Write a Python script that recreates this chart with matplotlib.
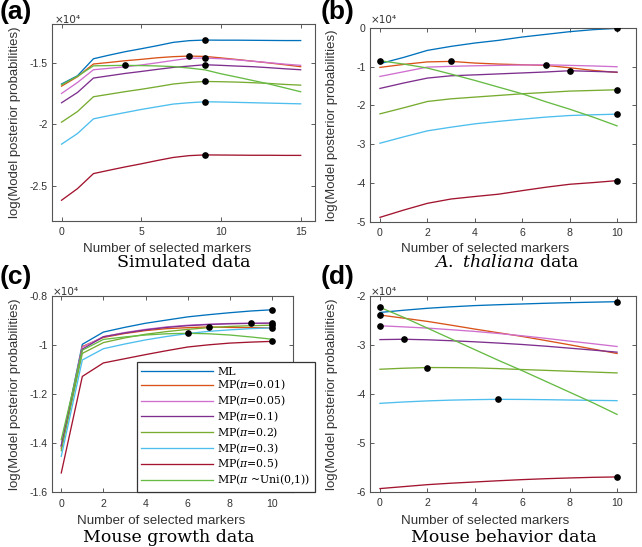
import numpy as np
import matplotlib
matplotlib.use("Agg")
import matplotlib.pyplot as plt
from matplotlib.font_manager import FontProperties
from matplotlib.ticker import FormatStrFormatter

plt.rcParams['axes.unicode_minus'] = False
plt.rcParams['mathtext.fontset'] = 'dejavuserif'

# ---------------- data (values in units of 1e4) ----------------
series_labels = ['ML', r'MP($\pi$=0.01)', r'MP($\pi$=0.05)', r'MP($\pi$=0.1)',
                 r'MP($\pi$=0.2)', r'MP($\pi$=0.3)', r'MP($\pi$=0.5)', r'MP($\pi$ ~Uni(0,1))']
series_colors = ['#0072BD', '#D95319', '#CF6FCF', '#7E2F8E',
                 '#77AC30', '#4DBEEE', '#A2142F', '#66BB44']

# (a) Simulated data, markers 0..15
sim_x = list(range(16))
sim_ml   = [-1.669, -1.601, -1.462, -1.432, -1.404, -1.380, -1.355, -1.328, -1.314, -1.309, -1.310, -1.310, -1.311, -1.312, -1.313, -1.313]
sim_p001 = [-1.686, -1.609, -1.505, -1.492, -1.478, -1.467, -1.454, -1.445, -1.440, -1.443, -1.455, -1.468, -1.482, -1.496, -1.511, -1.527]
sim_p005 = [-1.746, -1.656, -1.552, -1.540, -1.528, -1.513, -1.495, -1.476, -1.458, -1.456, -1.462, -1.471, -1.482, -1.494, -1.506, -1.516]
sim_p01  = [-1.822, -1.738, -1.620, -1.601, -1.582, -1.566, -1.549, -1.533, -1.522, -1.511, -1.516, -1.522, -1.527, -1.535, -1.544, -1.552]
sim_p02  = [-1.981, -1.894, -1.773, -1.752, -1.731, -1.712, -1.691, -1.669, -1.656, -1.648, -1.650, -1.653, -1.658, -1.664, -1.672, -1.678]
sim_p03  = [-2.161, -2.074, -1.954, -1.927, -1.902, -1.877, -1.855, -1.833, -1.822, -1.814, -1.816, -1.819, -1.822, -1.825, -1.828, -1.831]
sim_p05  = [-2.620, -2.525, -2.402, -2.374, -2.347, -2.322, -2.295, -2.270, -2.255, -2.249, -2.250, -2.251, -2.252, -2.252, -2.253, -2.253]
sim_uni  = [-1.675, -1.605, -1.520, -1.518, -1.516, -1.518, -1.521, -1.526, -1.538, -1.553, -1.585, -1.612, -1.640, -1.668, -1.700, -1.732]

# (b) A. thaliana data, markers 0..10
ath_x = list(range(11))
ath_ml   = [-0.920, -0.759, -0.578, -0.474, -0.388, -0.319, -0.233, -0.164, -0.095, -0.043, -0.009]
ath_p001 = [-1.017, -0.940, -0.875, -0.862, -0.905, -0.931, -0.948, -0.966, -1.026, -1.095, -1.147]
ath_p005 = [-1.250, -1.130, -1.009, -0.990, -0.975, -0.965, -0.955, -0.950, -0.965, -0.980, -1.000]
ath_p01  = [-1.560, -1.420, -1.293, -1.233, -1.210, -1.185, -1.160, -1.135, -1.103, -1.120, -1.138]
ath_p02  = [-2.216, -2.060, -1.897, -1.828, -1.784, -1.741, -1.698, -1.664, -1.629, -1.612, -1.595]
ath_p03  = [-2.974, -2.810, -2.655, -2.560, -2.474, -2.410, -2.353, -2.300, -2.259, -2.240, -2.224]
ath_p05  = [-4.888, -4.700, -4.526, -4.414, -4.350, -4.290, -4.198, -4.110, -4.034, -3.990, -3.940]
ath_uni  = [-0.845, -0.931, -1.034, -1.190, -1.353, -1.526, -1.698, -1.905, -2.095, -2.302, -2.526]

# (c) Mouse growth data, markers 0..10
mg_x = list(range(11))
mg_ml   = [-1.412, -0.996, -0.946, -0.927, -0.910, -0.897, -0.884, -0.875, -0.867, -0.860, -0.855]
mg_p001 = [-1.420, -1.005, -0.968, -0.952, -0.940, -0.932, -0.928, -0.925, -0.927, -0.928, -0.929]
mg_p005 = [-1.410, -1.008, -0.965, -0.948, -0.935, -0.925, -0.918, -0.914, -0.911, -0.910, -0.911]
mg_p01  = [-1.410, -1.016, -0.965, -0.950, -0.937, -0.927, -0.920, -0.915, -0.912, -0.9105, -0.909]
mg_p02  = [-1.430, -1.033, -0.989, -0.970, -0.955, -0.944, -0.935, -0.928, -0.923, -0.920, -0.918]
mg_p03  = [-1.453, -1.060, -1.014, -0.995, -0.978, -0.964, -0.952, -0.943, -0.937, -0.932, -0.929]
mg_p05  = [-1.521, -1.127, -1.072, -1.055, -1.038, -1.022, -1.007, -0.998, -0.991, -0.987, -0.984]
mg_uni  = [-1.385, -1.020, -0.976, -0.966, -0.958, -0.953, -0.951, -0.953, -0.958, -0.966, -0.975]

# (d) Mouse behavior data, markers 0..10
mb_x = list(range(11))
mb_ml   = [-2.330, -2.285, -2.245, -2.215, -2.190, -2.172, -2.157, -2.142, -2.130, -2.120, -2.110]
mb_p001 = [-2.383, -2.447, -2.513, -2.590, -2.670, -2.745, -2.821, -2.905, -2.991, -3.080, -3.169]
mb_p005 = [-2.602, -2.625, -2.650, -2.683, -2.718, -2.760, -2.807, -2.860, -2.916, -2.970, -3.026]
mb_p01  = [-2.885, -2.878, -2.889, -2.908, -2.930, -2.956, -2.985, -3.020, -3.060, -3.100, -3.142]
mb_p02  = [-3.491, -3.470, -3.456, -3.458, -3.463, -3.478, -3.497, -3.514, -3.532, -3.549, -3.566]
mb_p03  = [-4.188, -4.160, -4.138, -4.122, -4.112, -4.106, -4.108, -4.113, -4.120, -4.127, -4.133]
mb_p05  = [-5.930, -5.890, -5.850, -5.820, -5.795, -5.770, -5.747, -5.728, -5.713, -5.700, -5.692]
mb_uni  = [-2.226, -2.430, -2.650, -2.870, -3.090, -3.310, -3.520, -3.740, -3.960, -4.180, -4.414]

panel_titles = ['Simulated data', r'$\it{A.}$ $\it{thaliana}$ data', 'Mouse growth data', 'Mouse behavior data']
panel_tags = ['(a)', '(b)', '(c)', '(d)']
xlabel_text = 'Number of selected markers'
ylabel_text = 'log(Model posterior probabilities)'

# ---------------- figure ----------------
W, H = 642, 547
fig = plt.figure(figsize=(W / 100, H / 100), dpi=100)

def rect(l, r, t, b):
    return [l / W, 1 - b / H, (r - l) / W, (b - t) / H]

panels = [
    dict(rect=rect(52, 315, 24.3, 221), x=sim_x,
         ys=[sim_ml, sim_p001, sim_p005, sim_p01, sim_p02, sim_p03, sim_p05, sim_uni],
         xlim=(-0.6, 15.9), ylim=(-2.79, -1.18), xticks=[0, 5, 10, 15], yticks=[-2.5, -2, -1.5],
         xlab=(166.7, 243), ylab=21, title=(184, 263), tag=(0, 19), expo=(55, 23)),
    dict(rect=rect(370, 636, 28, 221.7), x=ath_x,
         ys=[ath_ml, ath_p001, ath_p005, ath_p01, ath_p02, ath_p03, ath_p05, ath_uni],
         xlim=(-0.42, 10.8), ylim=(-5, 0), xticks=list(range(0, 11, 2)), yticks=[-5, -4, -3, -2, -1, 0],
         xlab=(485, 243), ylab=338, title=(507, 263), tag=(321, 19), expo=(371, 23)),
    dict(rect=rect(52, 293, 296.3, 492.3), x=mg_x,
         ys=[mg_ml, mg_p001, mg_p005, mg_p01, mg_p02, mg_p03, mg_p05, mg_uni],
         xlim=(-0.44, 11.0), ylim=(-1.6, -0.8), xticks=list(range(0, 11, 2)), yticks=[-1.6, -1.4, -1.2, -1, -0.8],
         xlab=(161, 515), ylab=21, title=(169, 538), tag=(0, 284), expo=(53, 295)),
    dict(rect=rect(370, 636, 296.3, 492), x=mb_x,
         ys=[mb_ml, mb_p001, mb_p005, mb_p01, mb_p02, mb_p03, mb_p05, mb_uni],
         xlim=(-0.42, 10.8), ylim=(-6, -2), xticks=list(range(0, 11, 2)), yticks=[-6, -5, -4, -3, -2],
         xlab=(485, 515), ylab=338, title=(504, 538), tag=(321, 284), expo=(371, 295)),
]

axc = '#404040'
sans = 'Liberation Sans'
serif = 'DejaVu Serif'

handles = None
for i, p in enumerate(panels):
    ax = fig.add_axes(p['rect'])
    hs = []
    for y, c in zip(p['ys'], series_colors):
        h, = ax.plot(p['x'], y, color=c, lw=0.95, zorder=2)
        hs.append(h)
    for y in p['ys']:
        k = int(np.argmax(y))
        ax.plot(p['x'][k], y[k], 'o', color='black', ms=3.8, zorder=4)
    if i == 2:
        handles = hs
    ax.set_xlim(*p['xlim'])
    ax.set_ylim(*p['ylim'])
    ax.set_xticks(p['xticks'])
    ax.set_yticks(p['yticks'])
    ax.yaxis.set_major_formatter(FormatStrFormatter('%g'))
    ax.tick_params(direction='in', length=3, width=0.6, top=True, right=True,
                   colors=axc, labelsize=7.6, labelcolor='#333333')
    ax.tick_params(axis='x', pad=4.5)
    ax.tick_params(axis='y', pad=3.2)
    for s in ax.spines.values():
        s.set_color('#555555')
        s.set_linewidth(0.8)
    for lab in ax.get_xticklabels() + ax.get_yticklabels():
        lab.set_family(sans)
    l, b, w, h = p['rect']
    fig.text(p['xlab'][0] / W, 1 - p['xlab'][1] / H, xlabel_text, ha='center', va='top',
             family=sans, fontsize=9.6, color='#333333')
    fig.text(p['ylab'] / W, b + h / 2, ylabel_text, ha='right', va='center', rotation=90,
             family=sans, fontsize=9.5, color='#333333')
    fig.text(p['title'][0] / W, 1 - p['title'][1] / H, panel_titles[i], ha='center', va='center',
             family=serif, fontsize=12.5, color='black')
    fig.text(p['tag'][0] / W, 1 - p['tag'][1] / H, panel_tags[i], ha='left', va='baseline',
             family=sans, fontsize=19, fontweight='bold', color='black')
    fig.text(p['expo'][0] / W, 1 - p['expo'][1] / H, '×10⁴', ha='left', va='baseline',
             family='DejaVu Sans', fontsize=7.5, color='#333333')

leg = fig.legend(handles, series_labels, loc='upper right',
                 bbox_to_anchor=(315 / W, 1 - 362.3 / H), bbox_transform=fig.transFigure,
                 prop=FontProperties(family=serif, size=7.8), handlelength=6.6, handletextpad=0.45,
                 labelspacing=0.12, borderpad=0.4, borderaxespad=0, fancybox=False,
                 framealpha=1, edgecolor='#333333')
leg.get_frame().set_linewidth(0.9)
leg.set_zorder(10)

fig.savefig('out.png', dpi=100)
